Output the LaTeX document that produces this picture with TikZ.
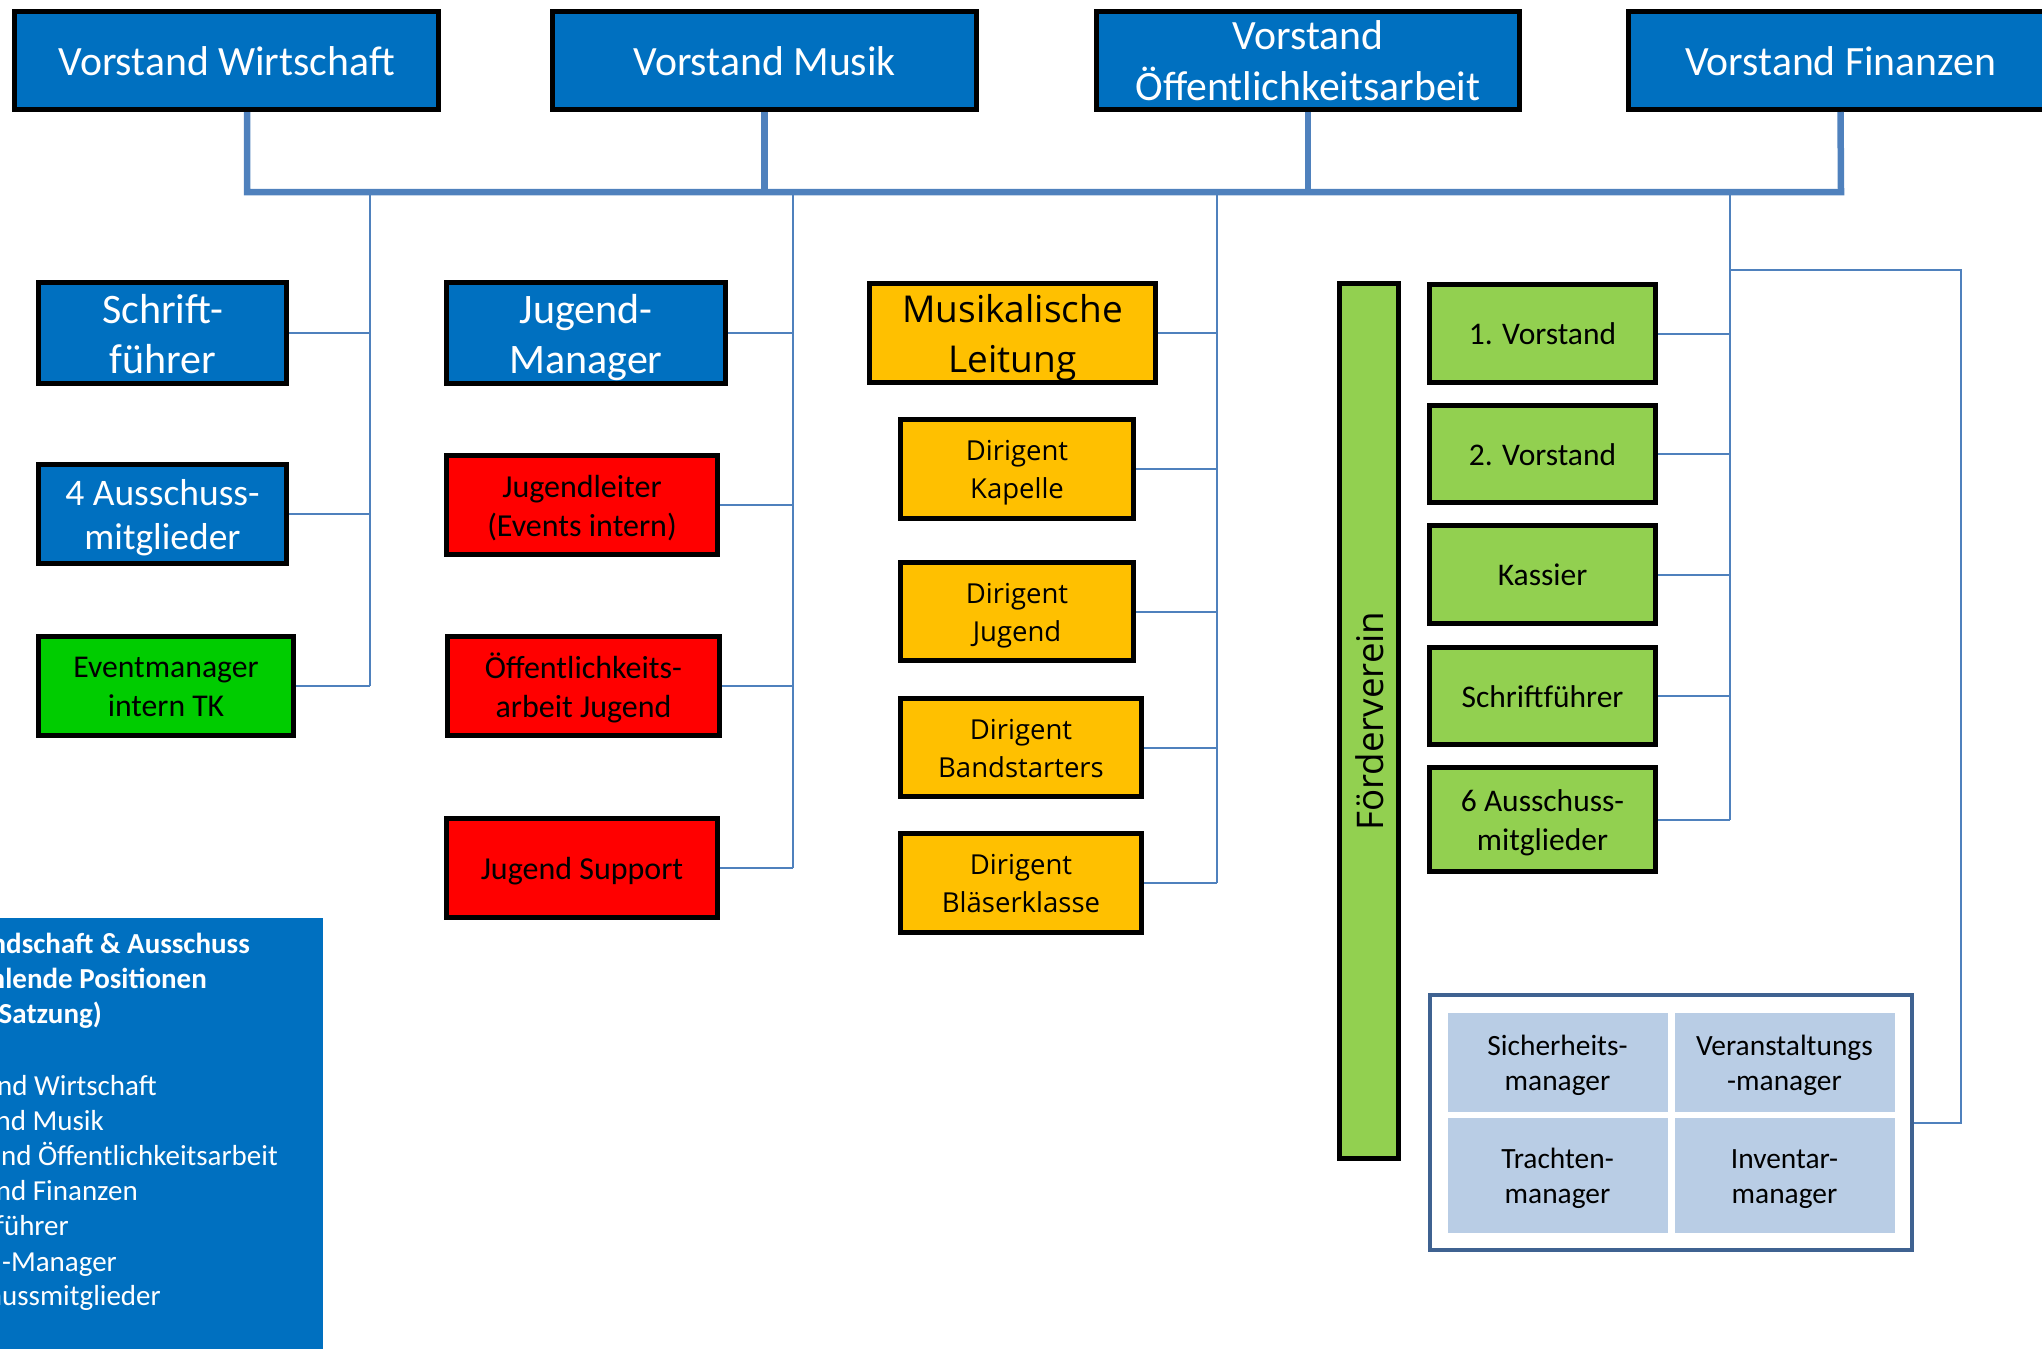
\documentclass[tikz,border=0pt]{standalone}
\usepackage{fontspec}
\setmainfont{Carlito}
\newfontfamily\segfont{Open Sans}
\newcommand\setfs[2]{\fontsize{#1}{#2}\selectfont}
\newcommand\myup{\rule{0pt}{0.97em}}
\newcommand\mysup{\rule{0pt}{1.02em}}
\newcommand\mydn{\rule[-0.25em]{0pt}{0.25em}}
\definecolor{boxblue}{HTML}{0070C0}
\definecolor{boxred}{HTML}{FF0000}
\definecolor{boxorange}{HTML}{FFC000}
\definecolor{boxgreen}{HTML}{92D050}
\definecolor{evgreen}{HTML}{00CC00}
\definecolor{cellblue}{HTML}{B9CDE5}
\definecolor{connblue}{HTML}{4F81BD}
\definecolor{ctrblue}{HTML}{3F6291}
\begin{document}
\begin{tikzpicture}[x=1pt,y=-1pt,
  orgbox/.style={draw=black, line width=5pt, rectangle, align=center, inner sep=0pt},
  bluebox/.style={orgbox, fill=boxblue, text=white},
  redbox/.style={orgbox, fill=boxred, text=black, font=\setfs{32}{39}},
  orabox/.style={orgbox, fill=boxorange, text=black, font=\segfont\setfs{27.5}{38}},
  grnbox/.style={orgbox, fill=boxgreen, text=black, font=\setfs{31.5}{39}, minimum width=226pt},
  cellbox/.style={rectangle, fill=cellblue, draw=white, line width=1pt, align=center, inner sep=0pt, font=\setfs{29.4}{35}, minimum width=221pt},
  conn/.style={draw=connblue, line width=2pt},
  busline/.style={draw=connblue, line width=6.5pt},
  legtxt/.style={inner sep=0pt, text=white, font=\setfs{29}{35}, anchor=base east}
]
\useasboundingbox (0,0) rectangle (2042,1349);
\clip (0,0) rectangle (2042,1349);

% top row
\node[bluebox, minimum width=424pt, minimum height=98pt, font=\setfs{41.7}{51}] (vw) at (226.5,60.5) {\myup Vorstand Wirtschaft\mydn};
\node[bluebox, minimum width=424pt, minimum height=98pt, font=\setfs{41.7}{51}] (vm) at (764.5,60.5) {\myup Vorstand Musik\mydn};
\node[bluebox, minimum width=423pt, minimum height=98pt, font=\setfs{41.7}{51}] (vo) at (1308,60.5) {Vorstand\\Öffentlichkeitsarbeit};
\node[bluebox, minimum width=424pt, minimum height=98pt, font=\setfs{41.7}{51}] (vf) at (1840.5,60.5) {\myup Vorstand Finanzen\mydn};

% bus
\coordinate (b1) at (247,192);
\coordinate (b4) at (1841,192);
\draw[busline] (vw.south -| b1) -- (b1) -- (b4) -- (vf.south);
\draw[busline] (vm.south) -- (vm.south |- b1);
\draw[busline] (vo.south) -- (vo.south |- b1);

% branch coordinates
\coordinate (c1) at (370,192);
\coordinate (c2) at (793,192);
\coordinate (c3) at (1217,192);
\coordinate (c4) at (1730,192);

% column 1
\node[bluebox, minimum width=248pt, minimum height=99pt, font=\setfs{42}{50}] (sf) at (162.5,333) {\myup Schrift-\\führer\mydn};
\node[bluebox, minimum width=248pt, minimum height=99pt, font=\setfs{37.5}{44}] (au4) at (162.5,514) {\myup 4 Ausschuss-\\mitglieder\mydn};
\node[orgbox, fill=evgreen, minimum width=255pt, minimum height=99pt, font=\setfs{31.7}{39}] (ev) at (166,686) {\myup Eventmanager\\intern TK\mydn};
\draw[conn] (c1) -- (c1 |- ev.east);
\draw[conn] (sf.east) -- (sf.east -| c1);
\draw[conn] (au4.east) -- (au4.east -| c1);
\draw[conn] (ev.east) -- (ev.east -| c1);

% column 2
\node[bluebox, minimum width=279pt, minimum height=99pt, font=\setfs{42}{50}] (jm) at (586,333) {\myup Jugend-\\Manager\mydn};
\node[redbox, minimum width=271pt, minimum height=99pt] (jl) at (582,505) {\myup Jugendleiter\\(Events intern)\mydn};
\node[redbox, minimum width=272pt, minimum height=99pt] (oj) at (583.5,686) {\myup Öffentlichkeits-\\arbeit Jugend\mydn};
\node[redbox, minimum width=271pt, minimum height=99pt] (js) at (582,868) {\myup Jugend Support\mydn};
\draw[conn] (c2) -- (c2 |- js.east);
\draw[conn] (jm.east) -- (jm.east -| c2);
\draw[conn] (jl.east) -- (jl.east -| c2);
\draw[conn] (oj.east) -- (oj.east -| c2);
\draw[conn] (js.east) -- (js.east -| c2);

% column 3
\node[orgbox, fill=boxorange, minimum width=286pt, minimum height=99pt, font=\segfont\setfs{37}{50}] (ml) at (1012.5,333) {\mysup Musikalische\\Leitung\mydn};
\node[orabox, minimum width=233pt, minimum height=99pt] (dk) at (1017,469) {\mysup Dirigent\\Kapelle\mydn};
\node[orabox, minimum width=233pt, minimum height=98pt] (dj) at (1017,611.5) {\mysup Dirigent\\Jugend\mydn};
\node[orabox, minimum width=241pt, minimum height=98pt] (db) at (1021,747.5) {\mysup Dirigent\\Bandstarters\mydn};
\node[orabox, minimum width=241pt, minimum height=99pt] (dbk) at (1021,883) {\mysup Dirigent\\Bläserklasse\mydn};
\draw[conn] (c3) -- (c3 |- dbk.east);
\draw[conn] (ml.east) -- (ml.east -| c3);
\draw[conn] (dk.east) -- (dk.east -| c3);
\draw[conn] (dj.east) -- (dj.east -| c3);
\draw[conn] (db.east) -- (db.east -| c3);
\draw[conn] (dbk.east) -- (dbk.east -| c3);

% Foerderverein
\node[orgbox, fill=boxgreen, minimum width=59pt, minimum height=875pt] (fv) at (1369,721) {};
\node[rotate=90, inner sep=0pt, font=\segfont\setfs{36.7}{44}] (fvt) at (fv.center) {\mysup Förderverein\mydn};

% green column
\node[grnbox, minimum height=98pt] (g1) at (1542.5,333.5) {\myup 1. Vorstand\mydn};
\node[grnbox, minimum height=97pt] (g2) at (1542.5,454) {\myup 2. Vorstand\mydn};
\node[grnbox, minimum height=98pt] (gk) at (1542.5,574.5) {\myup Kassier\mydn};
\node[grnbox, minimum height=97pt] (gs) at (1542.5,696) {\myup Schriftführer\mydn};
\node[grnbox, minimum height=104pt] (g6) at (1542.5,819.5) {\myup 6 Ausschuss-\\mitglieder\mydn};
\draw[conn] (c4) -- (c4 |- g6.east);
\draw[conn] (g1.east) -- (g1.east -| c4);
\draw[conn] (g2.east) -- (g2.east -| c4);
\draw[conn] (gk.east) -- (gk.east -| c4);
\draw[conn] (gs.east) -- (gs.east -| c4);
\draw[conn] (g6.east) -- (g6.east -| c4);

% manager container
\node[rectangle, draw=ctrblue, line width=4pt, fill=white, minimum width=482pt, minimum height=255pt] (mc) at (1671,1122.5) {};
\node[cellbox, minimum height=100pt] (m1) at (1557.5,1062) {\myup Sicherheits-\\manager\mydn};
\node[cellbox, minimum height=100pt] (m2) at (1784.5,1062) {\myup Veranstaltungs\\-manager\mydn};
\node[cellbox, minimum height=116pt] (m3) at (1557.5,1175) {\myup Trachten-\\manager\mydn};
\node[cellbox, minimum height=116pt] (m4) at (1784.5,1175) {\myup Inventar-\\manager\mydn};
\coordinate (gb) at (1730,270);
\coordinate (r1) at (1961,270);
\draw[conn] (gb) -- (r1) -- (r1 |- mc.east) -- (mc.east);

% legend
\fill[boxblue] (0,918) rectangle (323,1349);
\node[legtxt, font=\bfseries\setfs{29}{35}] (l1) at (250,953) {Vorstandschaft \& Ausschuss};
\node[legtxt, font=\bfseries\setfs{29}{35}] (l2) at (207,988) {(zu wählende Positionen};
\node[legtxt, font=\bfseries\setfs{29}{35}] (l3) at (102,1023) {laut Satzung)};
\node[legtxt] (l4) at (157,1095) {Vorstand Wirtschaft};
\node[legtxt] (l5) at (104,1130) {Vorstand Musik};
\node[legtxt] (l6) at (278,1165) {Vorstand Öffentlichkeitsarbeit};
\node[legtxt] (l7) at (138,1200) {Vorstand Finanzen};
\node[legtxt] (l8) at (69,1235) {Schriftführer};
\node[legtxt] (l9) at (117,1271) {Jugend-Manager};
\node[legtxt] (l10) at (161,1305) {Ausschussmitglieder};
\end{tikzpicture}
\end{document}
